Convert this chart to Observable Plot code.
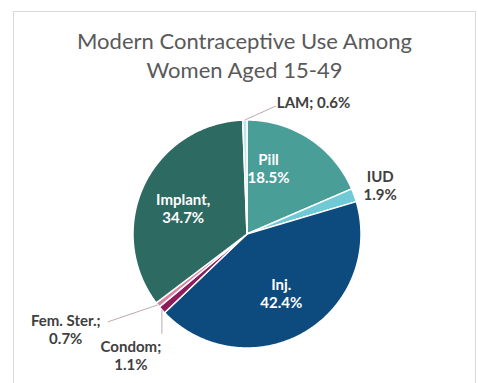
<!DOCTYPE html>
<html>
<head>
<meta charset="utf-8">
<script src="https://cdn.jsdelivr.net/npm/d3@7"></script>
<script src="https://cdn.jsdelivr.net/npm/@observablehq/plot@0.6"></script>
<style>
  html, body { margin: 0; padding: 0; background: #fff; width: 478px; height: 383px; overflow: hidden; }
  #frame { position: absolute; left: 13px; top: 11px; width: 461px; height: 400px; border: 1px solid #d9d9d9; border-bottom: none; background: #fff; }
  #title { position: absolute; left: 13px; top: 26px; width: 463px; text-align: center; font-family: Lato, sans-serif; font-size: 22px; line-height: 29px; color: #595959; }
  #chart { position: absolute; left: 14px; top: 88px; }
</style>
</head>
<body>
<div id="frame"></div>
<div id="title">Modern Contraceptive Use Among<br>Women Aged 15-49</div>
<div id="chart"></div>
<script>
const names  = ["Pill", "IUD", "Inj.", "Condom", "Fem. Ster.", "Implant", "LAM"];
const values = [18.5, 1.9, 42.4, 1.1, 0.7, 34.7, 0.6];
const labels = ["Pill\n18.5%", "IUD\n1.9%", "Inj.\n42.4%", "Condom;\n1.1%", "Fem. Ster.;\n0.7%", "Implant,\n34.7%", "LAM; 0.6%"];
const colors = ["#4a9e98", "#6fcad6", "#0d4a7d", "#8c1c5b", "#d9839e", "#2d6a61", "#bfe2ec"];

// label layout: inside or outside, radial factor, pixel offsets
const labelLayout = {
  "Pill":       {inside: true,  f: 0.6, dx: -16, dy: -9},
  "IUD":        {inside: false, f: 1.0, dx: 26,  dy: -10},
  "Inj.":       {inside: true,  f: 0.6, dx: 0,   dy: 0},
  "Condom":     {inside: false, f: 1.0, dx: -31, dy: 45, leader: [0, 24]},
  "Fem. Ster.": {inside: false, f: 1.0, dx: -92, dy: 24, leader: [-50, 17]},
  "Implant":    {inside: true,  f: 0.6, dx: -2,  dy: 3},
  "LAM":        {inside: false, f: 1.0, dx: 32,  dy: -17, anchor: "start", leader: [31, -14]}
};

const W = 462, H = 295;
const cx = 232.5, cy = 145.5, R = 114;

const arcs = d3.pie().sort(null).value(d => d)(values);

const pts = [];
arcs.forEach((a, i) => {
  const name = names[i];
  pts.push({name, x: 0, y: 0});
  const n = Math.max(2, Math.ceil((a.endAngle - a.startAngle) / 0.01));
  for (let k = 0; k <= n; k++) {
    const t = a.startAngle + (a.endAngle - a.startAngle) * k / n;
    pts.push({name, x: Math.sin(t), y: Math.cos(t)});
  }
  pts.push({name, x: 0, y: 0});
});

const textData = [], leaders = [];
arcs.forEach((a, i) => {
  const name = names[i];
  const L = labelLayout[name];
  const mid = (a.startAngle + a.endAngle) / 2;
  const bx = L.f * Math.sin(mid), by = L.f * Math.cos(mid);
  textData.push({
    name, text: labels[i], inside: L.inside, anchor: L.anchor || "middle",
    x: bx + L.dx / R, y: by - L.dy / R
  });
  if (L.leader) {
    leaders.push({x1: bx, y1: by, x2: bx + L.leader[0] / R, y2: by - L.leader[1] / R});
  }
});

const fs = 15;
const plot = Plot.plot({
  width: W, height: H, margin: 0,
  style: {fontFamily: "Lato, sans-serif", background: "transparent"},
  x: {domain: [-1, 1], range: [cx - R, cx + R], axis: null},
  y: {domain: [-1, 1], range: [cy + R, cy - R], axis: null},
  color: {domain: names, range: colors},
  marks: [
    Plot.line(pts, {x: "x", y: "y", z: "name", fill: "name", stroke: "white", strokeWidth: 1.5, strokeLinejoin: "round", curve: "linear"}),
    Plot.link(leaders, {x1: "x1", y1: "y1", x2: "x2", y2: "y2", stroke: "#bcaab2", strokeWidth: 1}),
    Plot.text(textData.filter(d => d.inside), {x: "x", y: "y", text: "text", fill: "white", fontWeight: "bold", fontSize: fs, lineHeight: 1.2}),
    Plot.text(textData.filter(d => !d.inside && d.anchor === "middle"), {x: "x", y: "y", text: "text", fill: "#404040", fontWeight: "bold", fontSize: fs, lineHeight: 1.2}),
    Plot.text(textData.filter(d => !d.inside && d.anchor === "start"), {x: "x", y: "y", text: "text", fill: "#404040", fontWeight: "bold", fontSize: fs, textAnchor: "start"})
  ]
});
document.getElementById("chart").appendChild(plot);
</script>
</body>
</html>
